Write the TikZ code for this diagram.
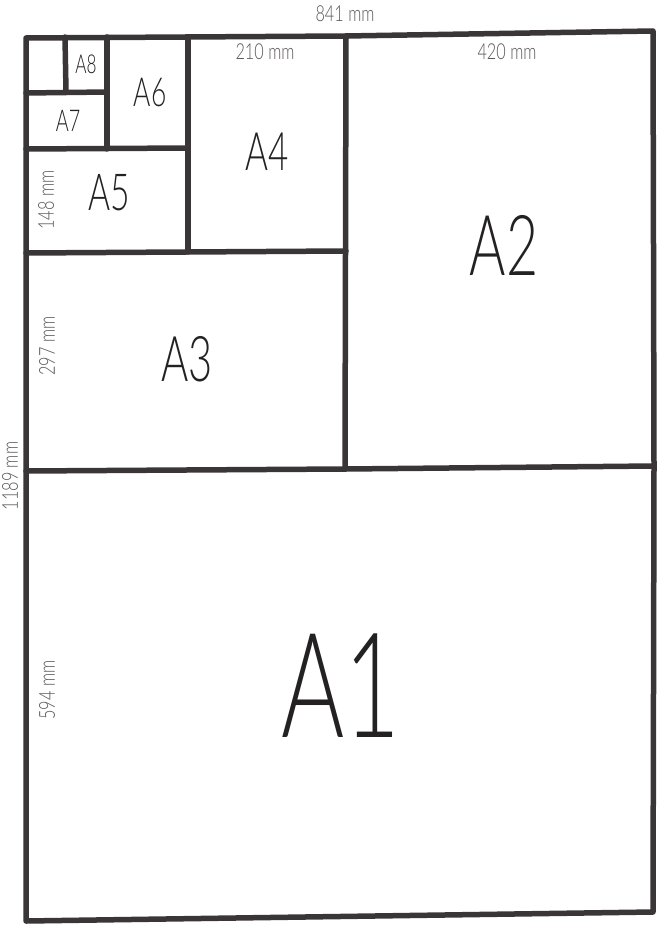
\documentclass[tikz,border=0pt]{standalone}
\usepackage{fontspec}
\setmainfont{Lato Light}
\newfontfamily\narrowfont[FakeStretch=0.66]{Lato Light}
\newfontfamily\dimfont[FakeStretch=0.74]{Lato Light}
\usepackage{xcolor}
\usetikzlibrary{positioning}
\definecolor{penline}{HTML}{3A3637}
\definecolor{penlabel}{HTML}{5A5658}
\definecolor{pentext}{HTML}{242122}

\tikzset{
  sheet/.style={line width=5.5pt, draw=penline, line join=round, line cap=round},
  size/.style={text=pentext, inner sep=0pt},
  dim/.style={text=penlabel, inner sep=0pt, font=\dimfont\fontsize{22}{22}\selectfont},
}

\begin{document}
\begin{tikzpicture}[x=1pt, y=-1pt]
  \useasboundingbox (0,0) rectangle (658,925);

  % Outer sheet A0
  \draw[sheet] (26,38) -- (346,36) -- (653,31) -- (654,466) -- (653,912)
    -- (26,921) -- cycle;

  % Cuts, halving each time
  \draw[sheet] (26,471) -- (346,469) -- (654,466);   % A1 top
  \draw[sheet] (346,36) -- (345,469);                 % A2 left
  \draw[sheet] (26,253) -- (346,251);                 % A3 top
  \draw[sheet] (188,37) -- (188,252);                 % A4 left
  \draw[sheet] (26,149) -- (188,148);                 % A5 top
  \draw[sheet] (107,37) -- (107,149);                 % A6 left
  \draw[sheet] (26,93) -- (107,92);                   % A7 top
  \draw[sheet] (65,37) -- (66,92);                    % A8 left

  % Sheet names
  \node[size, font=\narrowfont\fontsize{146}{146}\selectfont] (a1) at (341,686) {A1};
  \node[size, font=\narrowfont\fontsize{84}{84}\selectfont] (a2) at (504,245) {A2};
  \node[size, font=\narrowfont\fontsize{63}{63}\selectfont] (a3) at (187,359) {A3};
  \node[size, font=\narrowfont\fontsize{53}{53}\selectfont] (a4) at (267,152) {A4};
  \node[size, font=\narrowfont\fontsize{51}{51}\selectfont] (a5) at (109,193) {A5};
  \node[size, font=\narrowfont\fontsize{40}{40}\selectfont] (a6) at (150,93) {A6};
  \node[size, font=\narrowfont\fontsize{30}{30}\selectfont] (a7) at (68,121) {A7};
  \node[size, font=\narrowfont\fontsize{26}{26}\selectfont] (a8) at (86,64) {A8};

  % Dimensions
  \node[dim] (w841) at (345,14) {841 mm};
  \node[dim] (w420) at (507,52) {420 mm};
  \node[dim] (w210) at (265,52) {210 mm};
  \node[dim, rotate=90] (h1189) at (10,476) {1189 mm};
  \node[dim, rotate=90] (h594) at (47,690) {594 mm};
  \node[dim, rotate=90] (h297) at (47,346) {297 mm};
  \node[dim, rotate=90] (h148) at (46,200) {148 mm};
\end{tikzpicture}
\end{document}
